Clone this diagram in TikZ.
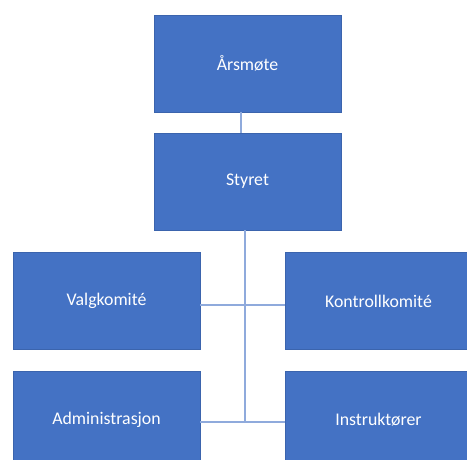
\documentclass[tikz,border=0pt]{standalone}
\usepackage{fontspec}
\setmainfont{Carlito}
\usepackage{tikz}
\usetikzlibrary{positioning}
\definecolor{boxblue}{HTML}{4472C4}
\definecolor{boxedge}{HTML}{3B64AD}
\definecolor{linkblue}{HTML}{8FAADC}
\tikzstyle{unit} = [rectangle, draw=boxedge, line width=0.5pt, fill=boxblue,
text=white, text centered, minimum width=187pt, minimum height=97pt,
inner sep=0pt, font=\fontsize{17.8}{20}\selectfont]
\tikzstyle{link} = [draw=linkblue, line width=1.2pt]

\begin{document}
\begin{tikzpicture}[x=1pt, y=-1pt, node distance=118pt]
	\useasboundingbox (0,0) rectangle (467,460);
	\clip (0,0) rectangle (467,460);
	% Place nodes
	\node [unit] (arsmote) at (247.5,63.5) {Årsmøte};
	\node [unit, below of=arsmote] (styret) {Styret};
	\node [unit] (valg) at (106.5,301) {Valgkomité};
	\node [unit] (kontroll) at (378.5,301) {Kontrollkomité};
	\node [unit] (admin) at (106.5,419.5) {Administrasjon};
	\node [unit] (instr) at (378.5,419.5) {Instruktører};
	%
	\coordinate (hub) at ([xshift=-2.5pt,yshift=-2.5pt]styret.south |- admin.east);
	\path [link] ([xshift=-6.5pt]arsmote.south) -- ([xshift=-6.5pt]styret.north);
	\path [link] ([xshift=-2.5pt]styret.south) -- (hub);
	\path [link] ([yshift=-4pt]valg.east) -- ([yshift=-4pt]kontroll.west);
	\path [link] ([yshift=-2.5pt]admin.east) -- ([yshift=-2.5pt]instr.west);
\end{tikzpicture}
\end{document}
